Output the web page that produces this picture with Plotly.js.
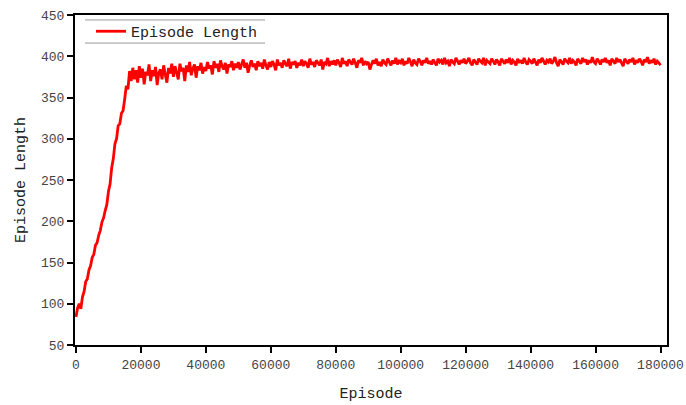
<!DOCTYPE html>
<html>
<head>
<meta charset="utf-8">
<script src="https://cdn.plot.ly/plotly-3.0.1.min.js"></script>
<style>html,body{margin:0;padding:0;background:#fff;}#chart{width:686px;height:405px;}</style>
</head>
<body>
<div id="chart"></div>
<script>
// Episode sampling: every 500 episodes, starting at 0
const episodeStart = 0;
const episodeStep = 500;
const seriesName = "Episode Length";
const xTickVals = [0, 20000, 40000, 60000, 80000, 100000, 120000, 140000, 160000, 180000];
const yTickVals = [50, 100, 150, 200, 250, 300, 350, 400, 450];
const episodeLength = [
  84, 95, 100, 94, 108, 115, 127, 130, 141, 146, 156, 160, 171, 174, 183, 189, 199, 204, 213, 220,
  236, 245, 265, 276, 294, 300, 316, 318, 331, 334, 348, 364, 360, 382, 370, 386, 372, 383, 368, 388,
  374, 385, 366, 381, 377, 390, 370, 383, 376, 387, 365, 380, 384, 372, 389, 378, 368, 386, 379, 391,
  375, 388, 380, 372, 391, 382, 386, 370, 389, 381, 393, 377, 385, 390, 374, 388, 383, 392, 379, 387,
  382, 393, 385, 389, 378, 394, 386, 391, 381, 395, 388, 384, 392, 379, 390, 387, 394, 383, 391, 386,
  393, 384, 390, 396, 386, 392, 380, 389, 395, 387, 391, 383, 394, 388, 392, 385, 396, 389, 384, 393,
  387, 394, 390, 383, 396, 389, 392, 386, 395, 391, 388, 397, 385, 393, 390, 394, 386, 392, 389, 396,
  388, 394, 391, 386, 397, 390, 393, 387, 395, 392, 389, 396, 384, 393, 391, 398, 388, 394, 390, 395,
  389, 396, 392, 387, 398, 391, 394, 388, 396, 393, 390, 397, 392, 386, 395, 392, 398, 389, 394, 391,
  393, 384, 390, 395, 391, 397, 389, 393, 388, 396, 392, 390, 397, 393, 389, 395, 391, 398, 390, 394,
  392, 397, 389, 394, 391, 398, 393, 388, 396, 392, 390, 397, 394, 389, 395, 392, 398, 391, 394, 390,
  396, 392, 389, 397, 393, 395, 390, 398, 392, 394, 388, 396, 393, 391, 398, 394, 390, 395, 392, 397,
  391, 394, 398, 392, 389, 396, 393, 390, 397, 394, 392, 398, 389, 395, 393, 391, 397, 394, 390, 396,
  393, 389, 397, 394, 391, 396, 392, 398, 390, 395, 393, 389, 397, 392, 395, 391, 398, 393, 390, 396,
  394, 391, 397, 393, 389, 396, 392, 398, 394, 390, 395, 393, 397, 391, 394, 399, 392, 388, 396, 393,
  390, 397, 394, 392, 398, 391, 395, 393, 389, 397, 394, 391, 398, 393, 396, 390, 395, 392, 399, 393,
  391, 397, 394, 390, 396, 393, 398, 392, 395, 389, 397, 394, 391, 398, 393, 396, 392, 388, 397, 394,
  391, 396, 393, 398, 390, 395, 392, 397, 394, 389, 396, 393, 399, 391, 395, 392, 397, 390, 394, 392,
  389
];

const fontMono = "Liberation Mono, DejaVu Sans Mono, monospace";

const trace = {
  type: "scatter",
  mode: "lines",
  name: seriesName,
  x0: episodeStart,
  dx: episodeStep,
  y: episodeLength,
  line: {color: "#ff0000", width: 2.8, simplify: false},
  showlegend: true
};

const axisCommon = {
  showline: true,
  linecolor: "#000",
  linewidth: 2,
  mirror: true,
  ticks: "outside",
  ticklen: 6,
  tickwidth: 2,
  tickcolor: "#000",
  showgrid: false,
  zeroline: false,
  tickfont: {family: fontMono, size: 13, color: "#444"}
};

const layout = {
  width: 686,
  height: 405,
  margin: {l: 75, r: 19, t: 15, b: 60},
  paper_bgcolor: "#fff",
  plot_bgcolor: "#fff",
  xaxis: Object.assign({}, axisCommon, {
    range: [-300, 182000],
    tickvals: xTickVals,
    ticktext: xTickVals.map(String),
    title: {text: "Episode", font: {family: fontMono, size: 15, color: "#222"}, standoff: 16}
  }),
  yaxis: Object.assign({}, axisCommon, {
    range: [50, 450],
    tickvals: yTickVals,
    ticktext: yTickVals.map(String),
    title: {text: "Episode Length", font: {family: fontMono, size: 15, color: "#222"}, standoff: 12}
  }),
  legend: {
    x: 0.027, y: 1.0, xanchor: "left", yanchor: "top",
    bgcolor: "rgba(0,0,0,0)",
    borderwidth: 0,
    font: {family: fontMono, size: 15, color: "#222"}
  },
  shapes: [
    {type: "line", xref: "paper", yref: "paper", x0: 0.017, x1: 0.321, y0: 0.985, y1: 0.985, line: {color: "#999", width: 1}},
    {type: "line", xref: "paper", yref: "paper", x0: 0.017, x1: 0.321, y0: 0.915, y1: 0.915, line: {color: "#999", width: 1}}
  ]
};

Plotly.newPlot("chart", [trace], layout, {displayModeBar: false, staticPlot: true});
</script>
</body>
</html>
